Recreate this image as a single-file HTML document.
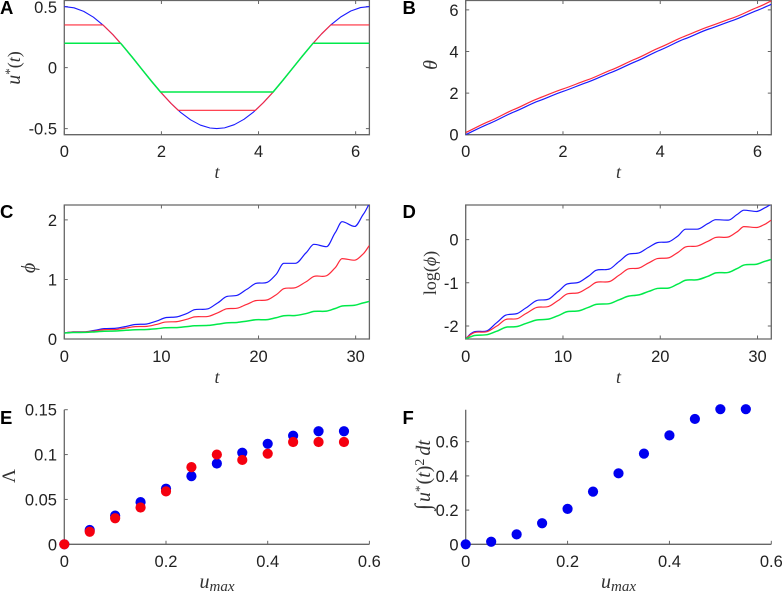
<!DOCTYPE html>
<html lang="en">
<head>
<meta charset="utf-8">
<title>Six-panel chart</title>
<style>
html,body{margin:0;padding:0;background:#fff;width:782px;height:591px;overflow:hidden}
svg{display:block}
text{font-family:"Liberation Sans",sans-serif;fill:#222}
.tick{font-size:16.5px}
.letter{font-size:18.5px;font-weight:bold;fill:#000}
.math{font-family:"Liberation Serif","DejaVu Serif",serif;font-size:18px;fill:#333}
.it{font-style:italic}
</style>
</head>
<body>
<svg id="figure" xmlns="http://www.w3.org/2000/svg" width="782" height="591" viewBox="0 0 782 591"></svg>
<script>
// Panel A
const aBlueT = [0,.2,.4,.6,.8,1,1.2,1.4,1.6,1.8,2,2.2,2.4,2.6,2.8,3,3.14,3.3,3.5,3.7,3.9,4.1,4.3,4.5,4.7,4.9,5.1,5.3,5.5,5.7,5.9,6.1,6.283];
const aBlueU = [.5,.49,.461,.413,.348,.27,.181,.085,-.015,-.114,-.208,-.294,-.369,-.428,-.471,-.495,-.5,-.494,-.468,-.424,-.363,-.287,-.201,-.105,-.006,.093,.189,.277,.354,.417,.464,.492,.5];
const aRedT = [0,.795,1,1.2,1.4,1.6,1.8,2,2.2,2.346,3.937,4.1,4.3,4.5,4.7,4.9,5.1,5.3,5.488,6.283];
const aRedU = [.35,.35,.27,.181,.085,-.015,-.114,-.208,-.294,-.35,-.35,-.287,-.201,-.105,-.006,.093,.189,.277,.35,.35];
const aGreenT = [0,1.159,1.4,1.6,1.8,1.982,4.3,4.5,4.7,4.9,5.124,6.283];
const aGreenU = [.2,.2,.085,-.015,-.114,-.2,-.2,-.105,-.006,.093,.2,.2];
// Panel B
const bT = [0,.5,1,1.5,2,2.5,3,3.5,4,4.5,5,5.5,6,6.283];
const bBlue = [0,.55,1.1,1.62,2.08,2.52,3,3.52,4.07,4.6,5.08,5.5,5.98,6.27];
const bRed = [.1,.66,1.22,1.75,2.2,2.63,3.12,3.65,4.2,4.73,5.2,5.62,6.12,6.43];
// Panels C and D share a time axis
const cdT = [0,.5,.9,2.2,3.2,4.1,5.3,6.2,7.3,8.5,9.5,10.4,11.6,12.6,13.4,14.8,15.8,16.7,17.8,18.8,19.7,20.9,21.8,22.6,23.8,24.9,25.7,27,27.9,28.6,29.9,30.8,31.4];
const cBlue = [.1,.113,.119,.121,.147,.174,.181,.206,.244,.252,.301,.357,.372,.427,.492,.507,.607,.712,.733,.835,.932,.951,1.083,1.271,1.271,1.448,1.59,1.55,1.786,1.97,1.89,2.096,2.27];
const cRed = [.1,.111,.117,.119,.135,.157,.16,.181,.208,.212,.244,.284,.292,.33,.372,.379,.44,.507,.517,.583,.644,.657,.741,.844,.861,.961,1.051,1.062,1.197,1.35,1.323,1.433,1.568];
const cGreen = [.1,.105,.109,.111,.12,.131,.134,.144,.156,.159,.172,.188,.192,.208,.223,.228,.249,.27,.278,.301,.323,.326,.357,.391,.395,.427,.463,.468,.512,.554,.566,.607,.631];
const dBlue = [-2.3,-2.18,-2.13,-2.11,-1.92,-1.75,-1.71,-1.58,-1.41,-1.38,-1.2,-1.03,-.99,-.85,-.71,-.68,-.5,-.34,-.31,-.18,-.07,-.05,.08,.24,.24,.37,.46,.45,.58,.68,.65,.74,.82];
const dRed = [-2.3,-2.2,-2.15,-2.13,-2,-1.85,-1.83,-1.71,-1.57,-1.55,-1.41,-1.26,-1.23,-1.11,-.99,-.97,-.82,-.68,-.66,-.54,-.44,-.42,-.3,-.17,-.15,-.04,.05,.06,.18,.3,.28,.36,.45];
const dGreen = [-2.3,-2.25,-2.22,-2.2,-2.12,-2.03,-2.01,-1.94,-1.86,-1.84,-1.76,-1.67,-1.65,-1.57,-1.5,-1.48,-1.39,-1.31,-1.28,-1.2,-1.13,-1.12,-1.03,-.94,-.93,-.85,-.77,-.76,-.67,-.59,-.57,-.5,-.46];
// Panels E and F
const uMax = [0,.05,.1,.15,.2,.25,.3,.35,.4,.45,.5,.55];
const eBlue = [0,.016,.032,.047,.062,.076,.09,.102,.112,.121,.126,.126];
const eRed = [0,.014,.029,.041,.059,.086,.1,.094,.101,.114,.114,.114];
const fBlue = [0,.015,.058,.123,.207,.308,.415,.53,.637,.733,.79,.79];
// Tick labels
const tickA_X = ['0','2','4','6'];
const tickA_Y = ['-0.5','0','0.5'];
const tickB_Y = ['0','2','4','6'];
const tickC_X = ['0','10','20','30'];
const tickC_Y = ['0','1','2'];
const tickD_Y = ['-2','-1','0'];
const tickE_X = ['0','0.2','0.4','0.6'];
const tickE_Y = ['0','0.05','0.1','0.15'];
const tickF_Y = ['0','0.2','0.4','0.6'];

const NS = 'http://www.w3.org/2000/svg';
const fig = document.getElementById('figure');
const BLUE = '#1a1aff', RED = '#ff2a3a', GREEN = '#00ea4a', AXIS = '#666';

function mk(tag, attrs, parent) {
  const e = document.createElementNS(NS, tag);
  for (const k in attrs) e.setAttribute(k, attrs[k]);
  parent.appendChild(e);
  return e;
}
function scale(d0, d1, r0, r1) {
  return v => r0 + (v - d0) * (r1 - r0) / (d1 - d0);
}
function panel(name, left, right, top, bottom, xDom, yDom, xLabels, yLabels, boxed, xTickBase, xEnd) {
  const g = mk('g', {}, fig);
  
  
  const sx = scale(xDom[0], xDom[1], left, right);
  const sy = scale(yDom[0], yDom[1], bottom, top);
  const clip = mk('clipPath', {id: name + '-clip'}, g);
  mk('rect', {x: left, y: top - (boxed ? 0 : 8), width: right - left, height: bottom - top + (boxed ? 0 : 16)}, clip);
  const axis = mk('path', {
    d: boxed
      ? `M${left} ${top}H${right}V${bottom}H${left}Z`
      : `M${left} ${top}V${bottom}H${right}`,
    fill: 'none', stroke: AXIS, 'stroke-width': 1.3
  }, g);
  
  
  xLabels.forEach(lab => {
    const v = parseFloat(lab);
    const x = sx(v);
    const tk = mk('path', {
      d: `M${x} ${bottom}v-3.5` + (boxed ? `M${x} ${top}v3.5` : ''),
      stroke: AXIS, 'stroke-width': 1, fill: 'none'
    }, g);
    
    
    const t = mk('text', {x: x, y: xTickBase, 'text-anchor': 'middle', class: 'tick'}, g);
    t.textContent = lab;
    
    
  });
  yLabels.forEach(lab => {
    const v = parseFloat(lab);
    const y = sy(v);
    const tk = mk('path', {
      d: `M${left} ${y}h3.5` + (boxed ? `M${right} ${y}h-3.5` : ''),
      stroke: AXIS, 'stroke-width': 1, fill: 'none'
    }, g);
    
    
    const t = mk('text', {x: xEnd, y: Math.max(y + 6, 13), 'text-anchor': 'end', class: 'tick'}, g);
    t.textContent = lab;
    
    
  });
  return {g, sx, sy, name};
}
function linePath(p, xs, ys, smooth) {
  const pts = xs.map((x, i) => [p.sx(x), p.sy(ys[i])]);
  let d = `M${pts[0][0].toFixed(2)} ${pts[0][1].toFixed(2)}`;
  if (!smooth) {
    for (let i = 1; i < pts.length; i++) d += `L${pts[i][0].toFixed(2)} ${pts[i][1].toFixed(2)}`;
    return d;
  }
  // cubic through the data points, flat at local extrema
  const n = pts.length;
  const sl = [];
  for (let i = 0; i < n - 1; i++) sl.push((pts[i+1][1] - pts[i][1]) / (pts[i+1][0] - pts[i][0]));
  const m = pts.map((_, i) => {
    if (i === 0) return sl[0];
    if (i === n - 1) return sl[n - 2];
    const a = sl[i - 1], b = sl[i];
    return a * b <= 0 ? 0 : 0.42 * (a + b);
  });
  for (let i = 0; i < n - 1; i++) {
    const h = (pts[i+1][0] - pts[i][0]) / 3;
    d += `C${(pts[i][0] + h).toFixed(2)} ${(pts[i][1] + m[i] * h).toFixed(2)} ${(pts[i+1][0] - h).toFixed(2)} ${(pts[i+1][1] - m[i+1] * h).toFixed(2)} ${pts[i+1][0].toFixed(2)} ${pts[i+1][1].toFixed(2)}`;
  }
  return d;
}
function drawLine(p, seriesName, xs, ys, color, width, smooth) {
  const l = mk('path', {
    d: linePath(p, xs, ys, smooth), fill: 'none', stroke: color, 'stroke-width': width,
    'stroke-linejoin': 'round', 'clip-path': `url(#${p.name}-clip)`
  }, p.g);
  
  
}
function drawDots(p, seriesName, xs, ys, color) {
  xs.forEach((x, i) => {
    const c = mk('circle', {cx: p.sx(x), cy: p.sy(ys[i]), r: 5.1, fill: color}, p.g);
    
    
  });
}
function letter(s, x, y) {
  const t = mk('text', {x: x, y: y, class: 'letter'}, fig);
  t.textContent = s;
  
  
}
function xTitle(markup, x, y, name) {
  const t = mk('text', {x: x, y: y, 'text-anchor': 'middle', class: 'math'}, fig);
  t.innerHTML = markup;
  
  
}
function yTitle(markup, x, y, name) {
  const t = mk('text', {'text-anchor': 'middle', class: 'math', transform: `translate(${x} ${y}) rotate(-90)`}, fig);
  t.innerHTML = markup;
  
  
}

const L1 = 64.3, R1 = 369.4, L2 = 465.7, R2 = 771.3;

const pA = panel('panel-a', L1, R1, .5, 134.7, [0, 6.2832], [-.55, .55], tickA_X, tickA_Y, true, 157, 57);
drawLine(pA, 'series-blue-umax-0.5', aBlueT, aBlueU, BLUE, 1.1, false);
drawLine(pA, 'series-red-umax-0.35', aRedT, aRedU, RED, 1.1, false);
drawLine(pA, 'series-green-umax-0.2', aGreenT, aGreenU, GREEN, 1.5, false);

const pB = panel('panel-b', L2, R2, .5, 134.7, [0, 6.2832], [0, 6.45], tickA_X, tickB_Y, true, 157, 458.5);
drawLine(pB, 'series-blue-theta', bT, bBlue, BLUE, 1.2, true);
drawLine(pB, 'series-red-theta', bT, bRed, RED, 1.2, true);

const pC = panel('panel-c', L1, R1, 205, 339, [0, 31.416], [0, 2.25], tickC_X, tickC_Y, true, 362, 57);
drawLine(pC, 'series-blue-phi', cdT, cBlue, BLUE, 1.2, true);
drawLine(pC, 'series-red-phi', cdT, cRed, RED, 1.2, true);
drawLine(pC, 'series-green-phi', cdT, cGreen, GREEN, 1.5, true);

const pD = panel('panel-d', L2, R2, 205, 339, [0, 31.416], [-2.3, .8], tickC_X, tickD_Y, true, 362, 458.5);
drawLine(pD, 'series-blue-log-phi', cdT, dBlue, BLUE, 1.2, true);
drawLine(pD, 'series-red-log-phi', cdT, dRed, RED, 1.2, true);
drawLine(pD, 'series-green-log-phi', cdT, dGreen, GREEN, 1.5, true);

const pE = panel('panel-e', L1, R1, 409.7, 544.3, [0, .6], [0, .15], tickE_X, tickE_Y, false, 567, 57);
drawDots(pE, 'point-blue-lambda', uMax, eBlue, '#0000f0');
drawDots(pE, 'point-red-lambda', uMax, eRed, '#f5000f');

const pF = panel('panel-f', L2, R2, 409.7, 544.3, [0, .6], [0, .787], tickE_X, tickF_Y, false, 567, 458.5);
drawDots(pF, 'point-blue-integral', uMax, fBlue, '#0000f0');

letter('A', 0, 14); letter('B', 402.5, 14);
letter('C', 0, 218); letter('D', 402.5, 218);
letter('E', 0, 424); letter('F', 402.5, 424);

const tMark = '<tspan class="it">t</tspan>';
const uSub = '<tspan class="it" font-size="20">u</tspan><tspan class="it" font-size="15" dy="3">max</tspan>';
xTitle(tMark, 217, 178, 'x-axis-title-a');
xTitle(tMark, 618.5, 178, 'x-axis-title-b');
xTitle(tMark, 217, 383, 'x-axis-title-c');
xTitle(tMark, 618.5, 383, 'x-axis-title-d');
xTitle(uSub, 217, 588, 'x-axis-title-e');
xTitle(uSub, 618.5, 588, 'x-axis-title-f');
yTitle('<tspan class="it" font-size="20">u</tspan><tspan font-size="13" dy="-6">*</tspan><tspan dy="6">(</tspan><tspan class="it">t</tspan>)', 20, 68, 'y-axis-title-a');
yTitle('<tspan class="it" font-size="20">θ</tspan>', 437, 65, 'y-axis-title-b');
yTitle('<tspan class="it" font-size="20">ϕ</tspan>', 35, 268, 'y-axis-title-c');
yTitle('log(<tspan class="it">ϕ</tspan>)', 436, 273, 'y-axis-title-d');
yTitle('<tspan font-size="19">Λ</tspan>', 15, 476, 'y-axis-title-e');
yTitle('<tspan font-size="22">∫</tspan><tspan class="it" font-size="20" dx="2">u</tspan><tspan font-size="13" dy="-6">*</tspan><tspan dy="6" dx="1" font-size="20">(</tspan><tspan class="it" font-size="20">t</tspan><tspan font-size="20">)</tspan><tspan font-size="14" dy="-6">2</tspan><tspan class="it" dy="6" dx="3" font-size="20">dt</tspan>', 430, 475, 'y-axis-title-f');
</script>
</body>
</html>
